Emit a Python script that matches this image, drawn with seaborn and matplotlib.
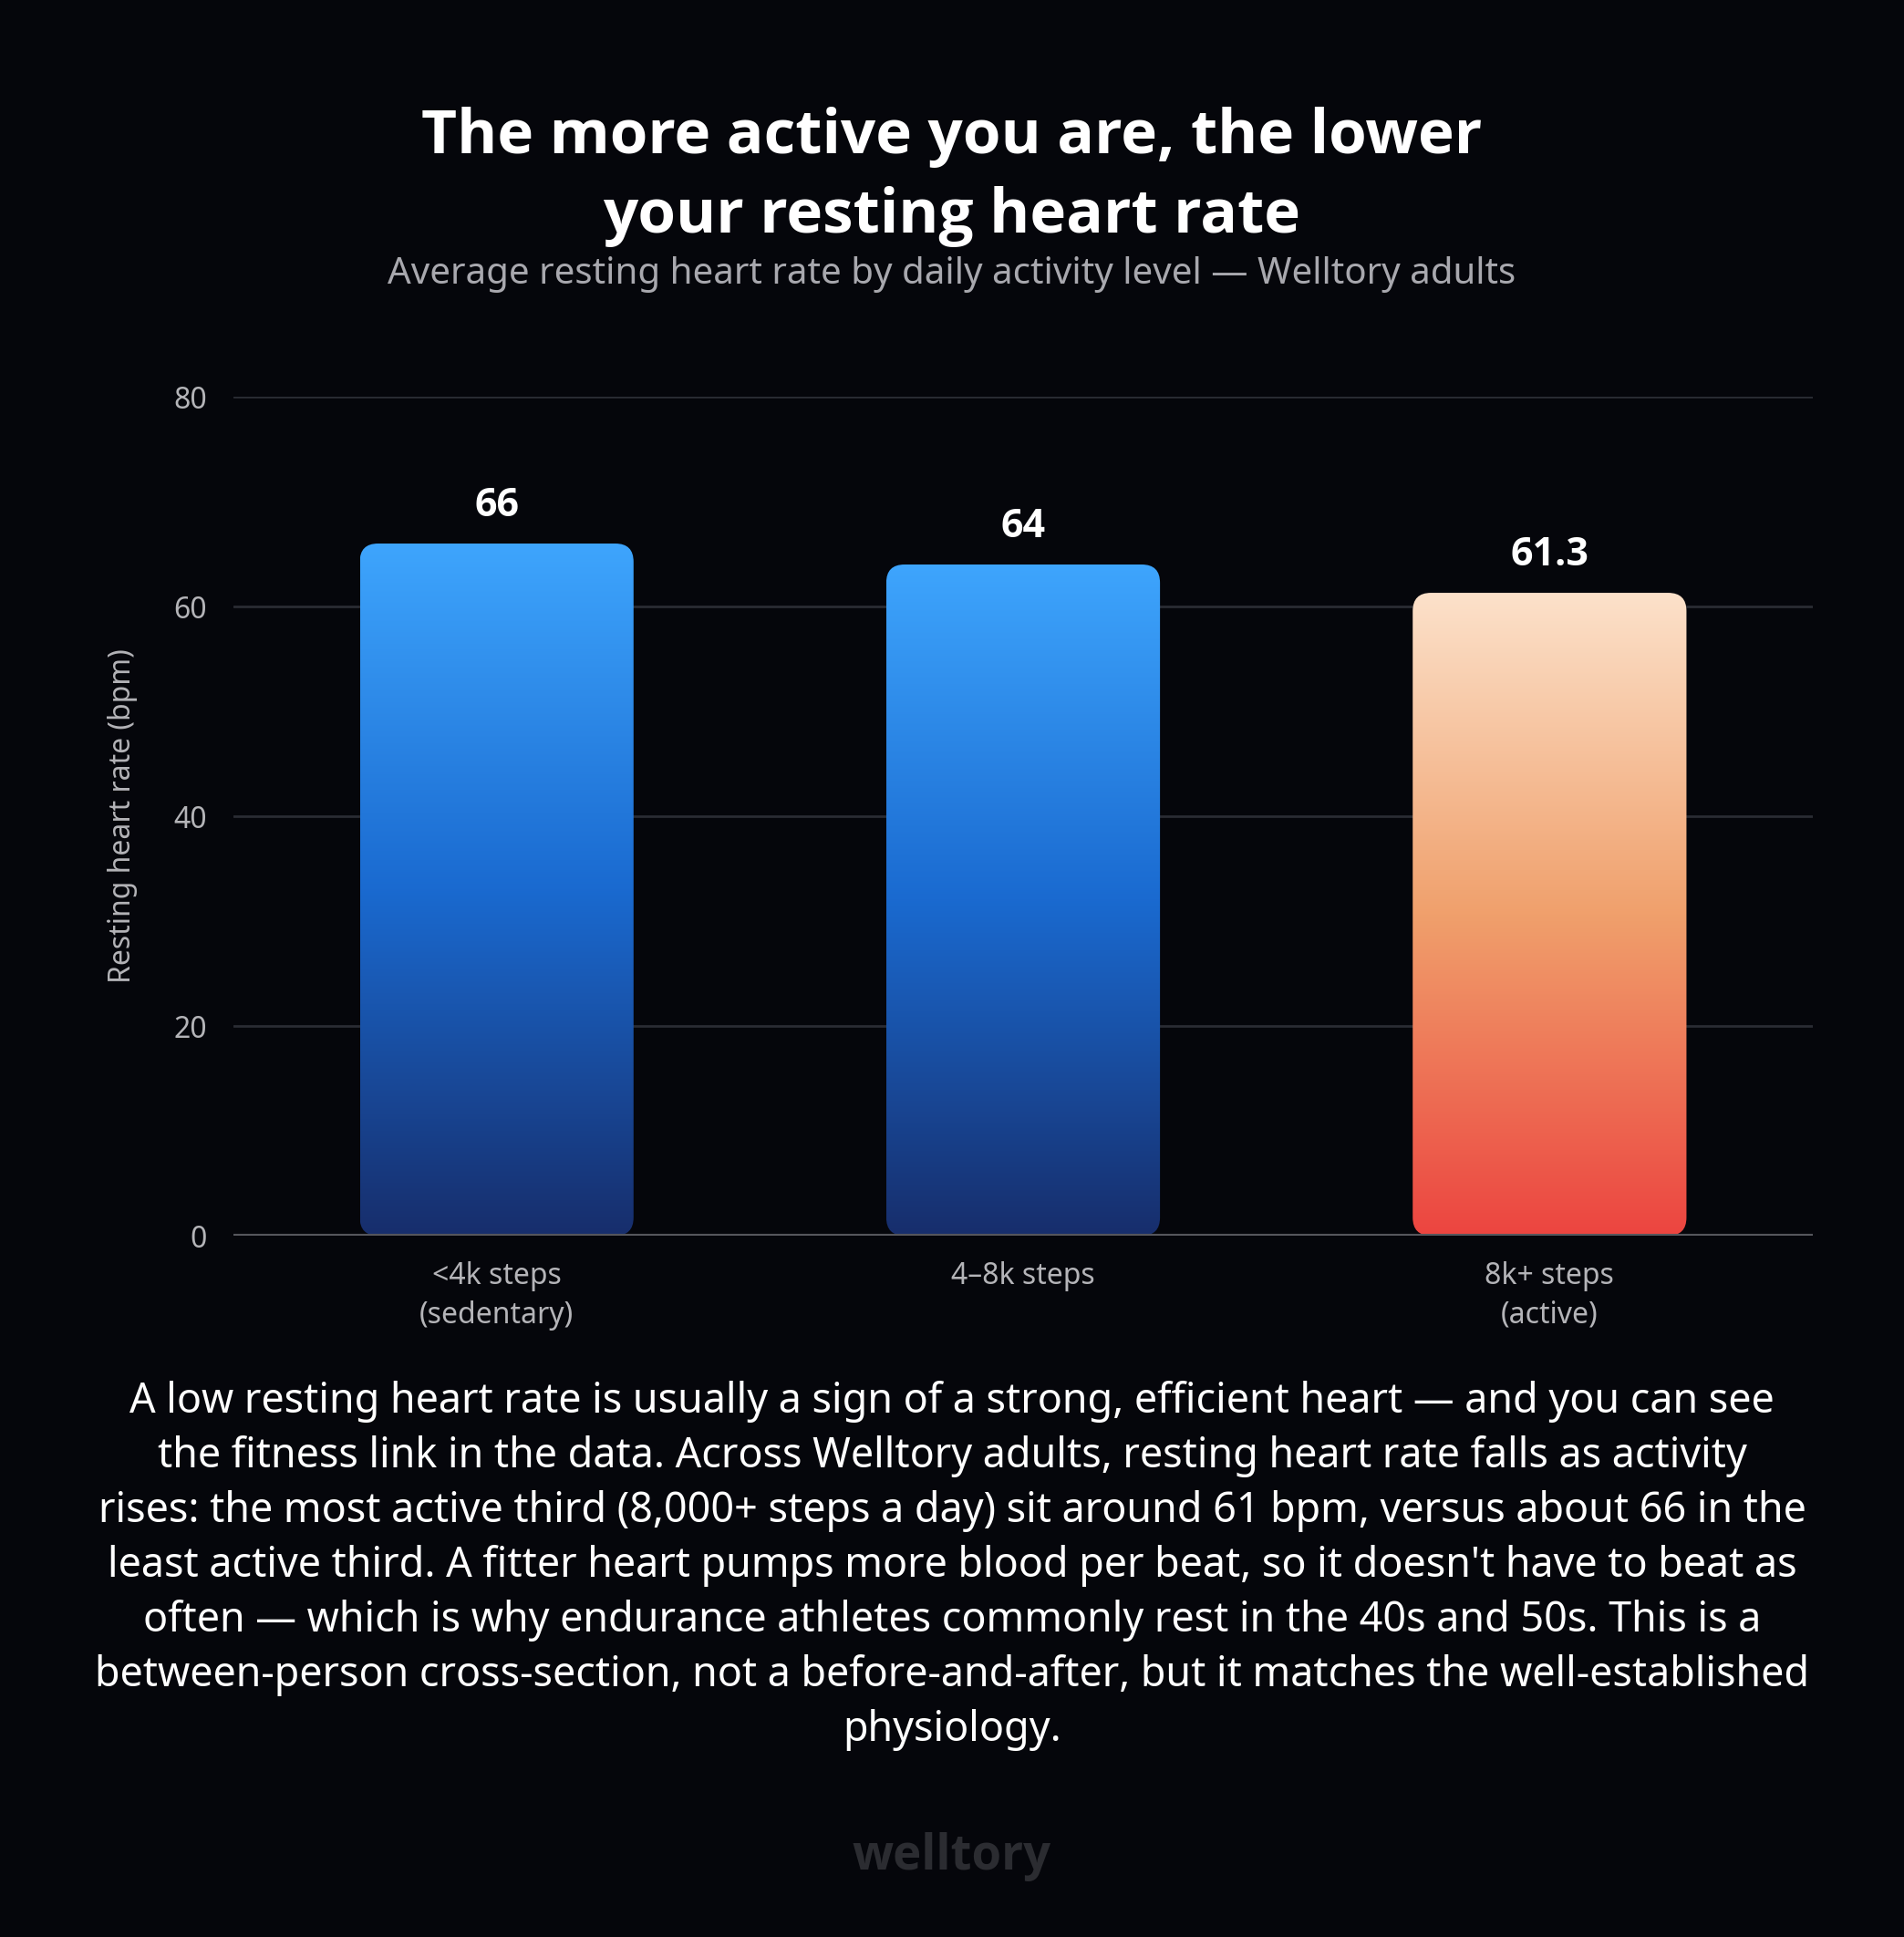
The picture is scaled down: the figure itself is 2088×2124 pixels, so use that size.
import numpy as np
import pandas as pd
import matplotlib
matplotlib.use("Agg")
import matplotlib.pyplot as plt
import seaborn as sns
from matplotlib.patches import FancyBboxPatch
from matplotlib.colors import LinearSegmentedColormap

# ---- data ----
categories = ["<4k steps\n(sedentary)", "4–8k steps", "8k+ steps\n(active)"]
values = [66, 64, 61.3]
value_labels = ["66", "64", "61.3"]
yticks = [0, 20, 40, 60, 80]

title = "The more active you are, the lower\nyour resting heart rate"
subtitle = "Average resting heart rate by daily activity level — Welltory adults"
ylabel = "Resting heart rate (bpm)"
body = ("A low resting heart rate is usually a sign of a strong, efficient heart — and you can see\n"
        "the fitness link in the data. Across Welltory adults, resting heart rate falls as activity\n"
        "rises: the most active third (8,000+ steps a day) sit around 61 bpm, versus about 66 in the\n"
        "least active third. A fitter heart pumps more blood per beat, so it doesn't have to beat as\n"
        "often — which is why endurance athletes commonly rest in the 40s and 50s. This is a\n"
        "between-person cross-section, not a before-and-after, but it matches the well-established\n"
        "physiology.")
footer = "welltory"

BG = "#05060B"
blue_grad = ["#172E6C", "#1A6AD0", "#3EA5FD"]
warm_grad = ["#EC4540", "#F0A06C", "#FCE1CA"]
bar_grads = [blue_grad, blue_grad, warm_grad]

sns.set_theme(style="dark")
plt.rcParams["font.family"] = ["Noto Sans", "DejaVu Sans"]
BOLD = ["Open Sans", "Lato", "DejaVu Sans"]

W, H, DPI = 2088, 2124, 100
fig = plt.figure(figsize=(W / DPI, H / DPI), dpi=DPI, facecolor=BG)
ax_l, ax_r, ax_t, ax_b = 256, 1988, 435, 1355
ax = fig.add_axes([ax_l / W, 1 - ax_b / H, (ax_r - ax_l) / W, (ax_b - ax_t) / H])
ax.set_facecolor(BG)

df = pd.DataFrame({"cat": categories, "val": values})
sns.barplot(data=df, x="cat", y="val", ax=ax, width=0.52, color="#3EA5FD", errorbar=None)

ax.set_xlim(-0.5, 2.5)
ax.set_ylim(0, 80)
ax.set_yticks(yticks)
ax.set_yticklabels([str(t) for t in yticks])
ax.grid(False)
for t in yticks[1:]:
    ax.axhline(t, color="#2A2C33", lw=2, zorder=0)
ax.axhline(0, color="#55565C", lw=3, zorder=5)
for s in ax.spines.values():
    s.set_visible(False)

ax.tick_params(axis="y", length=0, pad=21, labelsize=23, labelcolor="#B4B4B8")
ax.tick_params(axis="x", length=0, pad=20, labelsize=23, labelcolor="#B4B4B8")
ax.set_xlabel("")
ax.set_ylabel(ylabel, fontsize=23, color="#B4B4B8", labelpad=28)

# pixel scale for rounded corners
px_x = (ax_r - ax_l) / 3.0
px_y = (ax_b - ax_t) / 80.0
r_px = 20
rx = r_px / px_x
aspect = (r_px / px_y) / rx

patches = list(ax.patches)
for i, p in enumerate(patches):
    x0, w, h = p.get_x(), p.get_width(), p.get_height()
    p.set_visible(False)
    fb = FancyBboxPatch((x0, 0), w, h, boxstyle=f"round,pad=0,rounding_size={rx}",
                        mutation_aspect=aspect, facecolor="none", edgecolor="none",
                        transform=ax.transData)
    ax.add_patch(fb)
    cmap = LinearSegmentedColormap.from_list(f"g{i}", bar_grads[i])
    grad = np.linspace(0, 1, 256).reshape(-1, 1)
    im = ax.imshow(grad, extent=[x0, x0 + w, 0, h], origin="lower", cmap=cmap,
                   aspect="auto", zorder=3, interpolation="bicubic")
    im.set_clip_path(fb)
    ax.annotate(value_labels[i], (x0 + w / 2, h), xytext=(0, 30), textcoords="offset points",
                ha="center", va="center", fontsize=31, fontweight="bold", color="white",
                family=BOLD)

ax.set_xlim(-0.5, 2.5)
ax.set_ylim(0, 80)
for lab in ax.get_xticklabels():
    lab.set_linespacing(1.4)

fig.text(0.5, 1 - 194 / H, title, ha="center", va="center", fontsize=48.5, fontweight="bold",
         color="white", linespacing=1.40, family=BOLD)
fig.text(0.5, 1 - 301 / H, subtitle, ha="center", va="center", fontsize=29, color="#A8A8AE")
fig.text(0.5, 1 - 1717 / H, body, ha="center", va="center", fontsize=32.3, color="white",
         linespacing=1.40)
fig.text(0.5, 1 - 2036 / H, footer, ha="center", va="center", fontsize=38, fontweight="bold",
         color="#2B2C31", family=BOLD)

fig.savefig("out.png", dpi=DPI, facecolor=BG)
